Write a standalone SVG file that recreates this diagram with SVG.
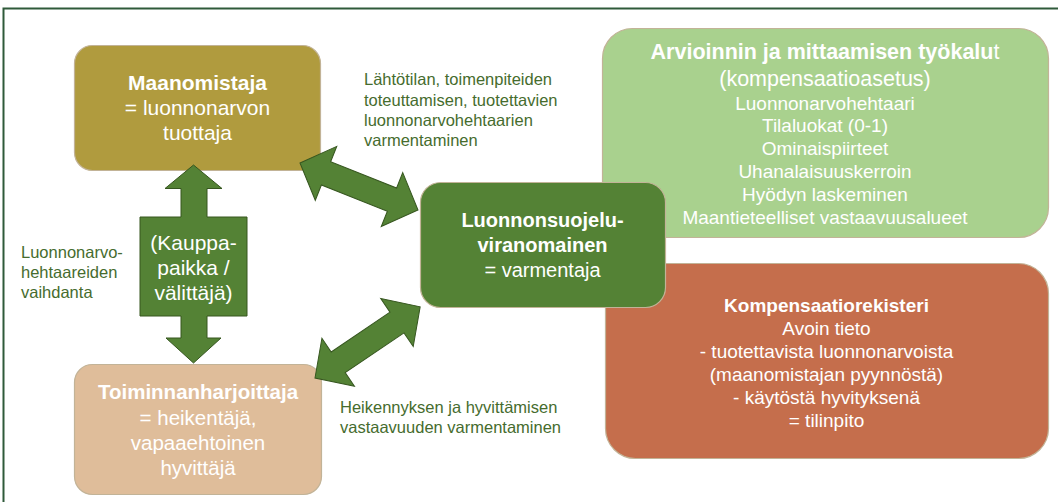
<svg xmlns="http://www.w3.org/2000/svg" width="1058" height="502" viewBox="0 0 1058 502">
<style>
  text { font-family: "Liberation Sans", Arial, sans-serif; }
  .w { fill: #ffffff; text-anchor: middle; }
  .b { font-weight: bold; }
  .lbl { fill: #466c2e; font-size: 16.5px; }
  .box { stroke: #c2b397; stroke-width: 1.2; }
  .arr { fill: #548235; stroke: #36561f; stroke-width: 1; stroke-linejoin: miter; }
</style>
<defs>
  <polygon id="dbl" points="0,0 28,-29 28,-12.5 99,-12.5 99,-29 127,0 99,29 99,12.5 28,12.5 28,29"/>
</defs>
<rect width="1058" height="502" fill="#ffffff"/>
<rect x="3.5" y="8.5" width="1060" height="500" fill="none" stroke="#2f5a3a" stroke-width="2"/>

<g id="tyokalut">
  <rect class="box" x="602.5" y="28.5" width="446" height="209" rx="30" fill="#a9d18e"/>
  <g class="w">
    <text x="825" y="58.5" font-size="21.5"><tspan class="b">Arvioinnin ja mittaamisen työkalu</tspan>t</text>
    <text x="825" y="85.5" font-size="21.5">(kompensaatioasetus)</text>
    <g font-size="19">
      <text x="825" y="109.5">Luonnonarvohehtaari</text>
      <text x="825" y="132.3">Tilaluokat (0-1)</text>
      <text x="825" y="155.1">Ominaispiirteet</text>
      <text x="825" y="177.9">Uhanalaisuuskerroin</text>
      <text x="825" y="200.7">Hyödyn laskeminen</text>
      <text x="825" y="223.5">Maantieteelliset vastaavuusalueet</text>
    </g>
  </g>
</g>

<g id="kompensaatiorekisteri">
  <rect class="box" x="605.5" y="263.5" width="443" height="195" rx="30" fill="#c56e4c"/>
  <g class="w" font-size="19">
    <text x="826.5" y="311.5" class="b">Kompensaatiorekisteri</text>
    <text x="826.5" y="334.5">Avoin tieto</text>
    <text x="826.5" y="357.5">- tuotettavista luonnonarvoista</text>
    <text x="826.5" y="380.5">(maanomistajan pyynnöstä)</text>
    <text x="826.5" y="403.5">- käytöstä hyvityksenä</text>
    <text x="826.5" y="426.5">= tilinpito</text>
  </g>
</g>

<g id="maanomistaja">
  <rect class="box" x="74.5" y="45.5" width="246" height="125" rx="18" fill="#b09b3e"/>
  <g class="w" font-size="21">
    <text x="197.5" y="90" class="b">Maanomistaja</text>
    <text x="197.5" y="115">= luonnonarvon</text>
    <text x="197.5" y="140">tuottaja</text>
  </g>
</g>

<g id="toiminnanharjoittaja">
  <rect class="box" x="74.5" y="364.5" width="247" height="130" rx="18" fill="#dfbd9a"/>
  <g class="w" font-size="20.5">
    <text x="198" y="399" class="b">Toiminnanharjoittaja</text>
    <text x="198" y="425">= heikentäjä,</text>
    <text x="198" y="450">vapaaehtoinen</text>
    <text x="198" y="475">hyvittäjä</text>
  </g>
</g>

<g id="viranomainen">
  <rect class="box" x="420.5" y="182.5" width="245" height="125" rx="20" fill="#548235"/>
  <g class="w" font-size="20">
    <text x="542.5" y="227" class="b">Luonnonsuojelu-</text>
    <text x="542.5" y="252" class="b">viranomainen</text>
    <text x="542.5" y="277">= varmentaja</text>
  </g>
</g>

<g id="connectors">
  <use href="#dbl" class="arr" transform="translate(300,163) rotate(21.7)"/>
  <use href="#dbl" class="arr" transform="translate(315,378) rotate(-34.1)"/>
  <polygon class="arr" points="193.5,165 222,188.5 207,188.5 207,217 247,217 247,316 207,316 207,338 221,338 193.5,363 166,338 181,338 181,316 140,316 140,217 181,217 181,188.5 165,188.5"/>
  <g class="w" font-size="21">
    <text x="193.5" y="250">(Kauppa-</text>
    <text x="193.5" y="275">paikka /</text>
    <text x="193.5" y="300">välittäjä)</text>
  </g>
  <g class="lbl">
    <text x="364" y="85">Lähtötilan, toimenpiteiden</text>
    <text x="364" y="105.5">toteuttamisen, tuotettavien</text>
    <text x="364" y="125.5">luonnonarvohehtaarien</text>
    <text x="364" y="145.5">varmentaminen</text>
    <text x="340" y="413">Heikennyksen ja hyvittämisen</text>
    <text x="340" y="433">vastaavuuden varmentaminen</text>
    <text x="21" y="258">Luonnonarvo-</text>
    <text x="21" y="278">hehtaareiden</text>
    <text x="21" y="298">vaihdanta</text>
  </g>
</g>
</svg>
